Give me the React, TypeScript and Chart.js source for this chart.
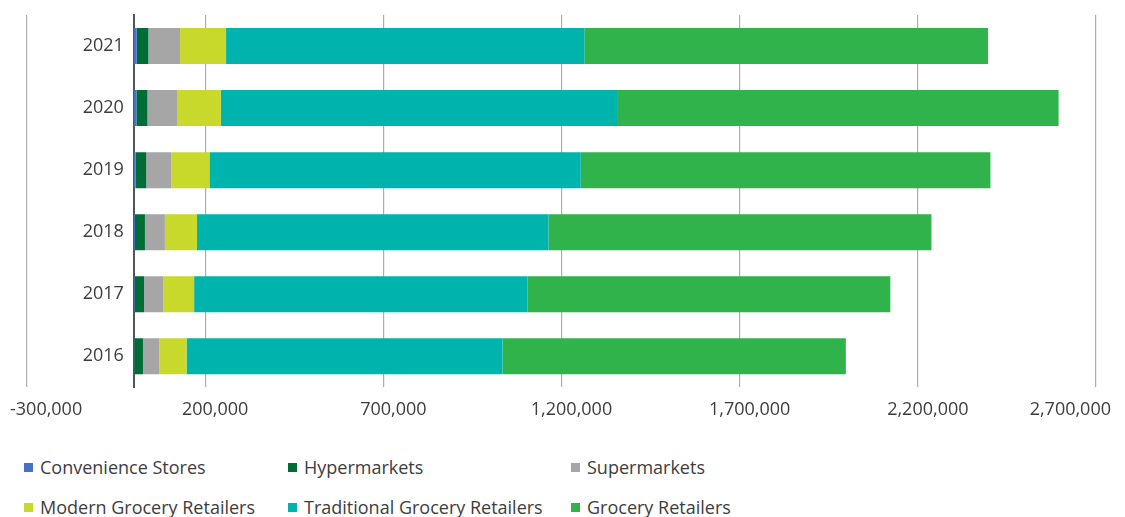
import React, { useEffect, useRef } from 'react';
import { Chart, registerables } from 'chart.js';

Chart.register(...registerables);

const years = ['2021', '2020', '2019', '2018', '2017', '2016'];
const convenienceStores = [8000, 7000, 5000, 3000, 2000, 1000];
const hypermarkets = [32600, 31000, 29500, 28000, 26500, 24400];
const supermarkets = [89000, 83000, 70000, 56000, 53500, 45700];
const modernGrocery = [129000, 122600, 107500, 90000, 87000, 76700];
const traditionalGrocery = [1005500, 1114800, 1042000, 986500, 935300, 886700];
const groceryRetailers = [1133000, 1236600, 1149700, 1074700, 1018500, 963400];

const xTickValues = [-300000, 200000, 700000, 1200000, 1700000, 2200000, 2700000];

const seriesNames = [
  'Convenience Stores',
  'Hypermarkets',
  'Supermarkets',
  'Modern Grocery Retailers',
  'Traditional Grocery Retailers',
  'Grocery Retailers',
];
const seriesValues = [
  convenienceStores,
  hypermarkets,
  supermarkets,
  modernGrocery,
  traditionalGrocery,
  groceryRetailers,
];
const seriesColors = ['#4472c4', '#006d36', '#a6a6a6', '#c9d92c', '#00b4ae', '#30b34a'];

const FONT = "'Open Sans', sans-serif";
const TEXT = '#3d3d3d';
const Y_LABEL_GAP = 10;

const labelPlacementPlugin = {
  id: 'labelPlacementPlugin',
  beforeDraw(chart: any) {
    const s = chart.scales.x;
    if (s) {
      const items = s.getLabelItems();
      if (items && items.length >= 2) {
        const first = items[0];
        const last = items[items.length - 1];
        const p0 = s.getPixelForValue(xTickValues[0]);
        const pN = s.getPixelForValue(xTickValues[xTickValues.length - 1]);
        first.options.translation[0] = p0 - 17;
        first.options.textAlign = 'left';
        last.options.translation[0] = pN + 15;
        last.options.textAlign = 'right';
      }
    }
    const ys = chart.scales.y;
    if (ys && s) {
      const yItems = ys.getLabelItems();
      const zero = s.getPixelForValue(0);
      for (const it of yItems) {
        it.options.translation[0] = zero - Y_LABEL_GAP;
        it.options.textAlign = 'right';
      }
    }
  },
};

export default function App() {
  const canvasRef = useRef<HTMLCanvasElement | null>(null);

  useEffect(() => {
    if (!canvasRef.current) return;
    const chart = new Chart(canvasRef.current, {
      type: 'bar',
      data: {
        labels: years,
        datasets: seriesNames.map((name, i) => ({
          label: name,
          data: seriesValues[i],
          backgroundColor: seriesColors[i],
          borderWidth: 0,
          categoryPercentage: 1,
          barPercentage: 0.58,
        })),
      },
      plugins: [labelPlacementPlugin],
      options: {
        indexAxis: 'y',
        animation: false,
        responsive: true,
        maintainAspectRatio: false,
        layout: { padding: { left: 27, right: 29, top: 15, bottom: 0 } },
        plugins: {
          legend: { display: false },
          tooltip: { enabled: false },
        },
        scales: {
          x: {
            type: 'linear',
            stacked: true,
            min: xTickValues[0],
            max: xTickValues[xTickValues.length - 1],
            afterBuildTicks: (axis: any) => {
              axis.ticks = xTickValues.map((v) => ({ value: v }));
            },
            grid: {
              color: '#aeaeb2',
              lineWidth: 1.2,
              drawTicks: false,
            },
            border: { display: false },
            ticks: {
              align: 'inner',
              labelOffset: 10,
              padding: 12,
              color: TEXT,
              font: { family: FONT, size: 18 },
              callback: (v: any) => Number(v).toLocaleString('en-US'),
            },
          },
          y: {
            type: 'category',
            stacked: true,
            position: { x: 0 } as any,
            grid: { display: false, drawTicks: false },
            border: { display: true, color: '#555555', width: 2 },
            ticks: {
              padding: 0,
              color: TEXT,
              font: { family: FONT, size: 18 },
            },
          },
        },
      } as any,
    });
    return () => chart.destroy();
  }, []);

  const colX = [24, 288, 571];
  const rowY = [467, 507];

  return (
    <div style={{ position: 'absolute', left: 0, top: 0, width: 1125, height: 517, background: '#fff' }}>
      <div style={{ position: 'absolute', left: 0, top: 0, width: 1125, height: 433 }}>
        <canvas ref={canvasRef} />
      </div>
      {seriesNames.map((name, i) => {
        const col = i % 3;
        const row = Math.floor(i / 3);
        const x = colX[col];
        const y = rowY[row];
        return (
          <div key={name}>
            <div
              style={{
                position: 'absolute',
                left: x,
                top: y - 4.5,
                width: 9,
                height: 9,
                background: seriesColors[i],
              }}
            />
            <div
              style={{
                position: 'absolute',
                left: x + 16,
                top: y - 10,
                fontFamily: FONT,
                fontSize: 18,
                lineHeight: '20px',
                color: TEXT,
                whiteSpace: 'nowrap',
              }}
            >
              {name}
            </div>
          </div>
        );
      })}
    </div>
  );
}
